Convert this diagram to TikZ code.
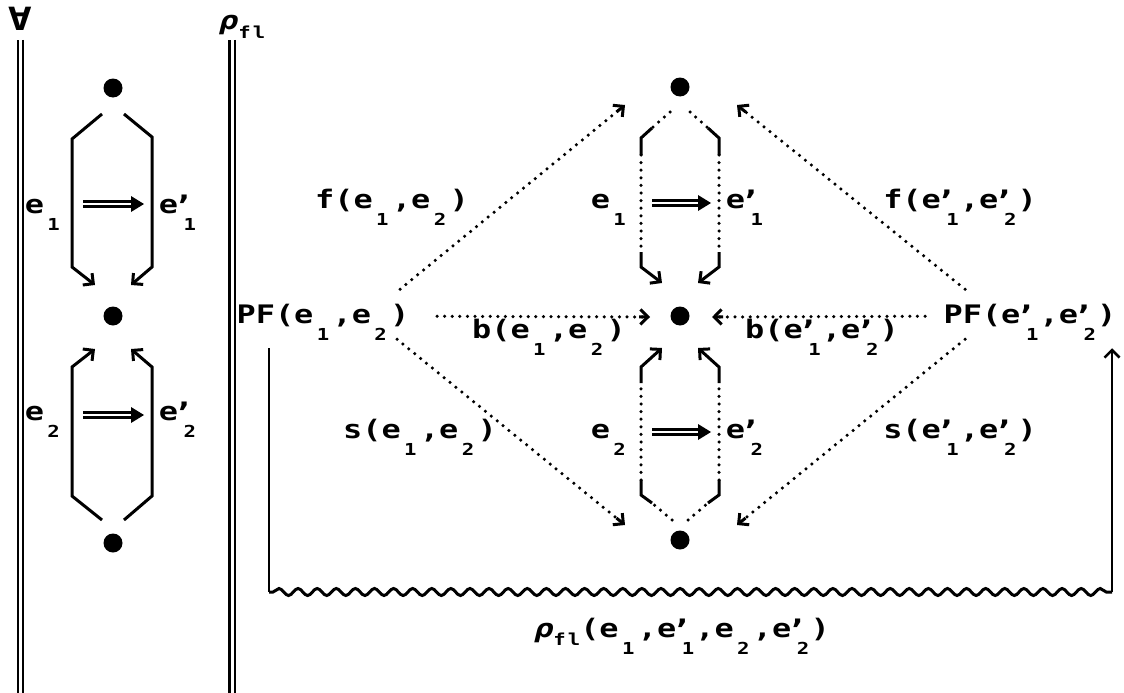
\documentclass[tikz,border=0pt]{standalone}
\usepackage{fontspec}
\setmainfont{DejaVu Sans Mono}[FakeStretch=1.25]
\usetikzlibrary{arrows.meta,calc,decorations.pathmorphing}

% one character cell, used to keep subscripts on the monospaced grid
\newsavebox\cellbox
\newcommand\subfont{\fontsize{16.5pt}{16.5pt}\selectfont}
\newcommand\primemark{{\fontsize{27pt}{27pt}\selectfont ’}}
\newcommand\sbs[1]{\sbox\cellbox{0}\makebox[\wd\cellbox][c]{\raisebox{-0.7em}{\subfont #1}}}
\newcommand\sbp[1]{\sbox\cellbox{0}\makebox[\wd\cellbox][l]{\rlap{\kern-0.2em\raisebox{-0.08em}{\primemark}}\kern0.22em\raisebox{-0.7em}{\subfont #1}}}
\newcommand\flsub{\raisebox{-0.32em}{\subfont f\kern2pt l}}

\tikzset{barb/.tip={Straight Barb[length=7.5pt,width=15pt]}}

\begin{document}
\begin{tikzpicture}[x=1pt,y=-1pt,
  txt/.style={font=\bfseries\fontsize{25.5pt}{25.5pt}\selectfont, inner sep=0pt, anchor=base},
  blob/.style={circle, fill=black, inner sep=0pt, minimum size=19pt},
  solidln/.style={line width=3pt, line join=miter},
  dotseq/.style={line width=3.5pt, dash pattern=on 0pt off 7.6pt, line cap=round},
  tipln/.style={solid, line width=3pt, -barb},
  rail/.style={double, double distance=3pt, line width=2.3pt},
  implies/.style={double, double distance=2.4pt, line width=3pt, shorten >=10pt}]
\useasboundingbox (0,0) rectangle (1124,693);

% separating rails
\draw[rail] (20.5,40) -- (20.5,693);
\draw[rail] (232,40) -- (232,693);
\node[txt, font=\bfseries\fontsize{32pt}{32pt}\selectfont] (forall) at (20,31) {∀};
\node[txt, anchor=base west] (rho) at (219,30) {{\itshape ρ}\flsub};

% points
\node[blob] (L1) at (113,88) {};
\node[blob] (L2) at (113,316) {};
\node[blob] (L3) at (113,543) {};
\node[blob] (M1) at (680,87) {};
\node[blob] (M2) at (680,316) {};
\node[blob] (M3) at (680,540) {};

% labels
\node[txt] (le1)  at (44,213)  {e\sbs1};
\node[txt] (le1p) at (178,213) {e\sbp1};
\node[txt] (le2)  at (44,420)  {e\sbs2};
\node[txt] (le2p) at (178,420) {e\sbp2};
\node[txt] (me1)  at (610,208) {e\sbs1};
\node[txt] (me1p) at (745,208) {e\sbp1};
\node[txt] (me2)  at (610,438) {e\sbs2};
\node[txt] (me2p) at (745,438) {e\sbp2};
\node[txt] (f1)  at (392,208)  {f(e\sbs1,e\sbs2)};
\node[txt] (f2)  at (960,208)  {f(e\sbp1,e\sbp2)};
\node[txt] (pf1) at (323,323)  {PF(e\sbs1,e\sbs2)};
\node[txt] (pf2) at (1030,323) {PF(e\sbp1,e\sbp2)};
\node[txt] (b1)  at (549,338)  {b(e\sbs1,e\sbs2)};
\node[txt] (b2)  at (822,338)  {b(e\sbp1,e\sbp2)};
\node[txt] (s1)  at (420,438)  {s(e\sbs1,e\sbs2)};
\node[txt] (s2)  at (960,438)  {s(e\sbp1,e\sbp2)};
\node[txt] (rfl) at (682,637)  {{\itshape ρ}\flsub(e\sbs1,e\sbp1,e\sbs2,e\sbp2)};

% left column: solid brackets
\draw[solidln,-barb] ($(L1)+(-11,26)$) -- ($(L1)+(-41,51)$) -- ($(L2)+(-41,-49)$) -- ($(L2)+(-18,-31)$);
\draw[solidln,-barb] ($(L1)+(11,26)$) -- ($(L1)+(39,49)$) -- ($(L2)+(39,-49)$) -- ($(L2)+(18,-31)$);
\draw[solidln,-barb] ($(L3)+(-11,-23)$) -- ($(L3)+(-41,-47)$) -- ($(L2)+(-41,51)$) -- ($(L2)+(-18,33)$);
\draw[solidln,-barb] ($(L3)+(11,-23)$) -- ($(L3)+(39,-47)$) -- ($(L2)+(39,51)$) -- ($(L2)+(18,33)$);

% middle column: brackets with dotted runs and solid corners
\foreach \s in {-1,1}{
  \draw[dotseq] ($(M1)+(\s*10,25)$) -- ($(M1)+(\s*28,41)$);
  \draw[solidln] ($(M1)+(\s*28,41)$) -- ($(M1)+(\s*39,51)$) -- ($(M1)+(\s*39,68)$);
  \draw[dotseq] ($(M1)+(\s*39,68)$) -- ($(M2)+(\s*39,-64)$);
  \draw[solidln,-barb] ($(M2)+(\s*39,-64)$) -- ($(M2)+(\s*39,-49)$) -- ($(M2)+(\s*18,-33)$);
  \draw[dotseq] ($(M3)+(\s*8,-20)$) -- ($(M3)+(\s*28,-37)$);
  \draw[solidln] ($(M3)+(\s*28,-37)$) -- ($(M3)+(\s*39,-45)$) -- ($(M3)+(\s*39,-60)$);
  \draw[dotseq] ($(M3)+(\s*39,-60)$) -- ($(M2)+(\s*39,67)$);
  \draw[solidln,-barb] ($(M2)+(\s*39,67)$) -- ($(M2)+(\s*39,51)$) -- ($(M2)+(\s*18,32)$);
}

% double arrows
\coordinate (ia1) at (83,204);  \coordinate (ib1) at (144,204);
\coordinate (ia2) at (83,415);  \coordinate (ib2) at (144,415);
\coordinate (ia3) at (652,203); \coordinate (ib3) at (711,203);
\coordinate (ia4) at (652,432); \coordinate (ib4) at (711,432);
\foreach \a/\b in {ia1/ib1,ia2/ib2,ia3/ib3,ia4/ib4}{
  \draw[implies] (\a) -- (\b);
  \fill (\b) -- ++(-13,-8) -- ++(0,16) -- cycle;
}

% dotted arrows from the two PF nodes (solid tips)
\coordinate (a1) at ($(pf1)+(77,-33)$);  \coordinate (t1) at ($(M1)+(-55,18)$);
\coordinate (a2) at ($(pf1)+(114,-6)$);  \coordinate (t2) at ($(M2)+(-30,1)$);
\coordinate (a3) at ($(pf1)+(74,17)$);   \coordinate (t3) at ($(M3)+(-55,-15)$);
\coordinate (a4) at ($(pf2)+(-65,-33)$); \coordinate (t4) at ($(M1)+(57,18)$);
\coordinate (a5) at ($(pf2)+(-105,-6)$); \coordinate (t5) at ($(M2)+(32,1)$);
\coordinate (a6) at ($(pf2)+(-65,17)$);  \coordinate (t6) at ($(M3)+(57,-15)$);
\foreach \a/\t in {a1/t1,a2/t2,a3/t3,a4/t4,a5/t5,a6/t6}{
  \draw[dotseq, shorten >=6pt] (\a) -- (\t);
  \draw[tipln] ($(\t)!11pt!(\a)$) -- (\t);
}

% bottom link with wavy run
\coordinate (up1) at ($(pf1)+(-54,26)$);
\coordinate (dn1) at (269,592);
\coordinate (dn2) at (1112,592);
\coordinate (up2) at ($(pf2)+(82,26)$);
\draw[line width=2.6pt] (up1) -- (dn1);
\draw[line width=3pt, decorate, decoration={snake, segment length=19.1pt, amplitude=3.5pt, pre length=4pt, post length=4pt}] (dn1) -- (dn2);
\draw[line width=2.6pt,-barb] (dn2) -- (up2);
\end{tikzpicture}
\end{document}
